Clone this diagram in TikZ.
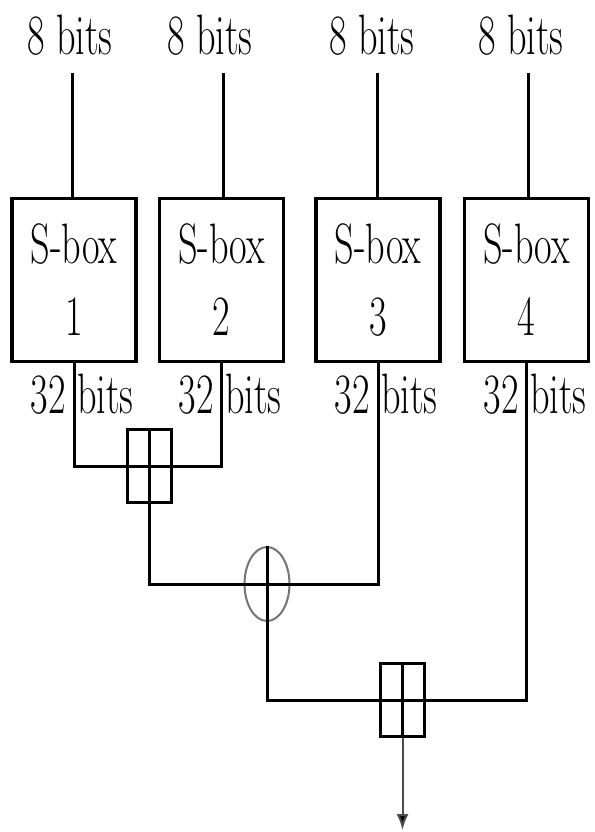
\documentclass[tikz,border=0pt]{standalone}
\usepackage{fontspec}
\usepackage{graphicx}
\usetikzlibrary{shapes.geometric,arrows.meta}
\newcommand{\nx}[1]{\scalebox{0.67}[1]{#1}}
\tikzset{
  lbl/.style={inner sep=0pt, anchor=base, font=\fontsize{57}{72}\selectfont},
  sbox/.style={draw, line width=3.2pt, minimum width=124pt, minimum height=163pt, inner sep=0pt, align=center, font=\fontsize{57}{72}\selectfont},
  addbox/.style={draw, line width=3pt, minimum width=44pt, minimum height=73pt, inner sep=0pt},
  xorel/.style={draw=black!55, ellipse, line width=2pt, minimum width=45pt, minimum height=74pt, inner sep=0pt},
  wire/.style={line width=3pt},
  outarrow/.style={draw=black!70, line width=2pt, -{Latex[length=16pt,width=12pt,fill=black]}}
}
\begin{document}
\begin{tikzpicture}[x=1pt,y=-1pt]
\useasboundingbox (0,0) rectangle (594,832);
% input labels
\node[lbl] (l1) at (70,55) {\nx{8 bits}};
\node[lbl] (l2) at (210,55) {\nx{8 bits}};
\node[lbl] (l3) at (372,55) {\nx{8 bits}};
\node[lbl] (l4) at (521,55) {\nx{8 bits}};
\coordinate (i1) at (72,73);
\coordinate (i2) at (223,73);
\coordinate (i3) at (377,73);
\coordinate (i4) at (528,73);
% S-boxes
\node[sbox] (b1) at (74,280) {\nx{S-box}\\\nx{1}};
\node[sbox] (b2) at (221.5,280) {\nx{S-box}\\\nx{2}};
\node[sbox] (b3) at (378,280) {\nx{S-box}\\\nx{3}};
\node[sbox] (b4) at (526.5,280) {\nx{S-box}\\\nx{4}};
\draw[wire] (i1) -- (i1 |- b1.north);
\draw[wire] (i2) -- (i2 |- b2.north);
\draw[wire] (i3) -- (i3 |- b3.north);
\draw[wire] (i4) -- (i4 |- b4.north);
% output labels
\node[lbl] (o1) at (82,413) {\nx{32 bits}};
\node[lbl] (o2) at (230,413) {\nx{32 bits}};
\node[lbl] (o3) at (386,413) {\nx{32 bits}};
\node[lbl] (o4) at (535,413) {\nx{32 bits}};
% combiners
\node[addbox] (a1) at (149,466) {};
\node[xorel] (x1) at (267,584) {};
\node[addbox] (a2) at (402.5,700) {};
\coordinate (out) at (402.5,830);
% wires
\draw[wire] (b1.south) |- (a1.west);
\draw[wire] (b2.south) |- (a1.east);
\draw[wire] (a1.west) -- (a1.east);
\draw[wire] (a1.north) -- (a1.south);
\draw[wire] (a1.south) |- (x1.west);
\draw[wire] (b3.south) |- (x1.east);
\draw[wire] (x1.west) -- (x1.east);
\draw[wire] (x1.north) -- (x1.south);
\draw[wire] (x1.south) |- (a2.west);
\draw[wire] (b4.south) |- (a2.east);
\draw[wire] (a2.west) -- (a2.east);
\draw[wire] (a2.north) -- (a2.south);
\draw[outarrow] (a2.south) -- (out);
\end{tikzpicture}
\end{document}
